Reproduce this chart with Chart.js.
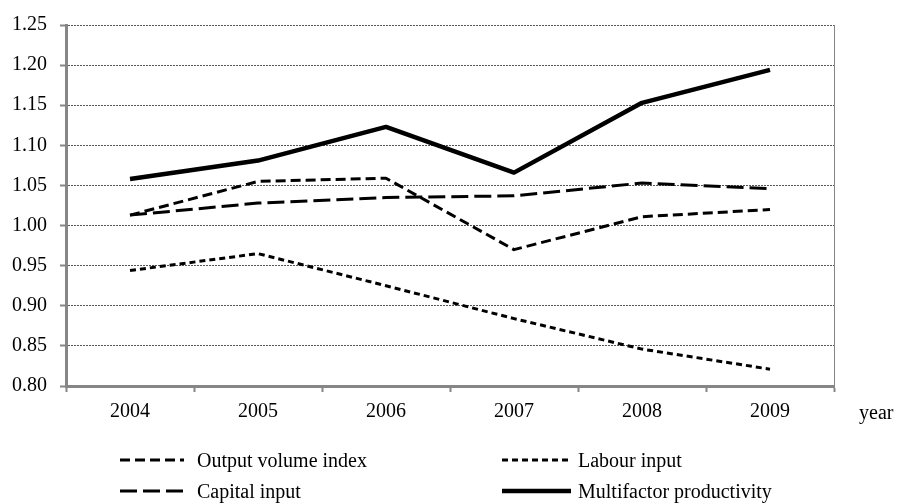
<!DOCTYPE html>
<html>
<head>
<meta charset="utf-8">
<script src="https://cdn.jsdelivr.net/npm/chart.js@4.4.0/dist/chart.umd.min.js"></script>
<style>
  body { margin: 0; background: #fff; }
  #wrap { position: relative; width: 897px; height: 503px; font-family: "Liberation Serif", "Times New Roman", serif; }
  #yearLabel { position: absolute; left: 859px; top: 400px; font-size: 20px; line-height: 24px; }
  .legend-item { position: absolute; height: 24px; font-size: 20px; line-height: 24px; white-space: nowrap; }
  .legend-item svg { position: absolute; left: 0; top: 0; }
  .legend-item span { position: absolute; top: 0; }
</style>
</head>
<body>
<div id="wrap">
  <canvas id="chart" width="897" height="503"></canvas>
  <div id="yearLabel">year</div>
  <div id="legend"></div>
</div>
<script>
// Data
const years = ['2004', '2005', '2006', '2007', '2008', '2009'];
const outputVolume = [1.013, 1.055, 1.059, 0.970, 1.011, 1.020];
const labourInput = [0.944, 0.965, 0.925, 0.884, 0.846, 0.821];
const capitalInput = [1.013, 1.028, 1.035, 1.037, 1.053, 1.046];
const multifactor = [1.058, 1.081, 1.123, 1.066, 1.153, 1.194];

const axisGray = '#868686';
const fontFamily = '"Liberation Serif", "Times New Roman", serif';

function lineSet(label, data, dash, width) {
  return {
    label: label,
    data: data,
    borderColor: '#000',
    backgroundColor: '#000',
    borderWidth: width,
    borderDash: dash,
    borderCapStyle: 'butt',
    borderJoinStyle: 'round',
    pointRadius: 0,
    tension: 0,
    fill: false
  };
}

const datasets = [
  lineSet('Output volume index', outputVolume, [10, 5], 3),
  lineSet('Labour input', labourInput, [6, 4], 3),
  lineSet('Capital input', capitalInput, [17, 6], 3),
  lineSet('Multifactor productivity', multifactor, [], 4.5)
];

const ctx = document.getElementById('chart').getContext('2d');
const chart = new Chart(ctx, {
  type: 'line',
  data: { labels: years, datasets: datasets },
  options: {
    responsive: false,
    animation: false,
    devicePixelRatio: 1,
    layout: { padding: { top: 24, left: 0, right: 0, bottom: 0 } },
    plugins: {
      legend: { display: false },
      tooltip: { enabled: false }
    },
    scales: {
      x: {
        offset: true,
        grid: {
          offset: true,
          drawOnChartArea: false,
          drawTicks: true,
          tickLength: 6,
          tickColor: axisGray,
          tickWidth: 2
        },
        border: { color: axisGray, width: 3 },
        ticks: {
          color: '#000',
          padding: 8,
          maxRotation: 0,
          font: { family: fontFamily, size: 20 }
        },
        afterFit: (scale) => { scale.height = 117; }
      },
      y: {
        min: 0.8,
        max: 1.25,
        grid: {
          color: '#555',
          lineWidth: 1,
          tickLength: 6,
          tickColor: axisGray,
          tickWidth: 2
        },
        border: { color: axisGray, width: 3, dash: [2, 1] },
        ticks: {
          stepSize: 0.05,
          color: '#000',
          padding: 13,
          font: { family: fontFamily, size: 20 },
          callback: (v) => Number(v).toFixed(2)
        },
        afterFit: (scale) => { scale.width = 66; }
      },
      yRight: {
        position: 'right',
        min: 0.8,
        max: 1.25,
        grid: { display: false },
        ticks: { display: false },
        border: { color: axisGray, width: 1 },
        afterFit: (scale) => { scale.width = 63; }
      }
    }
  }
});

// HTML legend, two columns
const legendPos = [
  { left: 120, top: 448, sample: 64, text: 77 },
  { left: 502, top: 448, sample: 69, text: 76 },
  { left: 120, top: 479, sample: 69, text: 77 },
  { left: 502, top: 479, sample: 69, text: 76 }
];
const legend = document.getElementById('legend');
datasets.forEach((ds, i) => {
  const p = legendPos[i];
  const item = document.createElement('div');
  item.className = 'legend-item';
  item.style.left = p.left + 'px';
  item.style.top = p.top + 'px';
  const dash = ds.borderDash.length ? ds.borderDash.join(',') : 'none';
  item.innerHTML =
    '<svg width="' + p.sample + '" height="24"><line x1="0" y1="12" x2="' + p.sample +
    '" y2="12" stroke="#000" stroke-width="' + ds.borderWidth + '" stroke-dasharray="' + dash + '"/></svg>' +
    '<span style="left:' + p.text + 'px">' + ds.label + '</span>';
  legend.appendChild(item);
});
</script>
</body>
</html>
